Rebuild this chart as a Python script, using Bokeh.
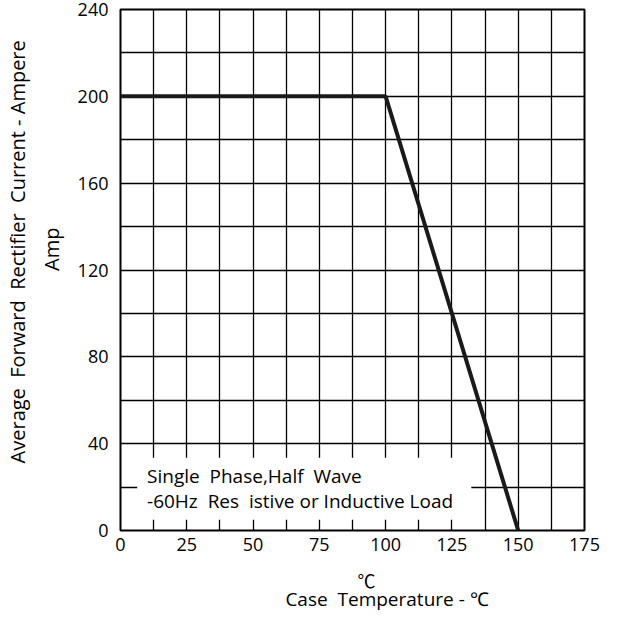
from bokeh.plotting import figure
from bokeh.models import Range1d, FixedTicker, Label, BoxAnnotation, LinearAxis
from bokeh.embed import file_html
from bokeh.resources import INLINE

# ---- data ----
temp_c = [0, 100, 150]
current_a = [200, 200, 0]
x_ticks = [0, 25, 50, 75, 100, 125, 150, 175]
y_ticks = [0, 40, 80, 120, 160, 200, 240]
x_grid = [12.5 * i for i in range(1, 14)]
y_grid = [20 * i for i in range(1, 12)]
note_lines = ["Single\u00a0 Phase,Half\u00a0 Wave", "-60Hz\u00a0 Res\u00a0 istive or Inductive Load"]
y_title = "Average\u00a0 Forward\u00a0 Rectifier\u00a0 Current - Ampere"
y_sub = "Amp"
x_unit = "\u2103"
x_title = "Case\u00a0 Temperature - \u2103"

FONT = "Open Sans"
NB = "\u00a0"

p = figure(width=611, height=615, output_backend="svg", toolbar_location=None,
           x_range=Range1d(0, 175), y_range=Range1d(0, 240),
           min_border_left=115, min_border_right=27, min_border_top=9, min_border_bottom=85)

p.background_fill_color = "white"
p.border_fill_color = "white"
p.outline_line_color = "black"
p.outline_line_width = 2
p.outline_line_alpha = 1

# grid
p.xgrid.ticker = FixedTicker(ticks=x_grid)
p.ygrid.ticker = FixedTicker(ticks=y_grid)
for g in (p.xgrid, p.ygrid):
    g.grid_line_color = "black"
    g.grid_line_width = 1.3
    g.grid_line_alpha = 1

# main axes
p.xaxis.ticker = FixedTicker(ticks=x_ticks)
p.yaxis.ticker = FixedTicker(ticks=y_ticks)
for ax in (p.xaxis, p.yaxis):
    ax.axis_line_color = None
    ax.major_tick_in = 0
    ax.major_tick_out = 0
    ax.minor_tick_line_color = None
    ax.major_label_text_font = FONT
    ax.major_label_text_font_size = "18px"
    ax.major_label_text_color = "black"
    ax.axis_label_text_font_style = "normal"
    ax.axis_label_text_color = "black"
p.xaxis.major_label_standoff = 7
p.yaxis.major_label_standoff = 12

p.xaxis.axis_label = NB * 7 + x_unit
p.xaxis.axis_label_text_font = "Noto Sans CJK SC"
p.xaxis.axis_label_text_font_size = "18px"
p.xaxis.axis_label_standoff = 13

p.yaxis.axis_label = NB * 8 + y_sub
p.yaxis.axis_label_text_font = FONT
p.yaxis.axis_label_text_font_size = "20px"
p.yaxis.axis_label_standoff = 10


def title_axis(label, standoff, size):
    ax = LinearAxis(ticker=FixedTicker(ticks=[]), axis_label=label)
    ax.axis_line_color = None
    ax.major_tick_line_color = None
    ax.minor_tick_line_color = None
    ax.major_label_standoff = 0
    ax.major_label_text_font_size = "0px"
    ax.axis_label_text_font = FONT
    ax.axis_label_text_font_size = size
    ax.axis_label_text_font_style = "normal"
    ax.axis_label_text_color = "black"
    ax.axis_label_standoff = standoff
    return ax


p.add_layout(title_axis(NB * 7 + y_title, 4, "20px"), "left")
p.add_layout(title_axis(NB * 14 + x_title, -10, "19px"), "below")

# white note box covering grid
p.add_layout(BoxAnnotation(left=6.3, right=132.3, bottom=5, top=33.5,
                           fill_color="white", fill_alpha=1, line_color=None))

# curve
p.line(temp_c, current_a, line_color="#1a1a1a", line_width=4)

# note text
p.add_layout(Label(x=10, y=25.2, text=note_lines[0], text_font=FONT, text_font_size="19px",
                   text_baseline="middle", text_align="left", text_color="black"))
p.add_layout(Label(x=10, y=13.8, text=note_lines[1], text_font=FONT, text_font_size="19px",
                   text_baseline="middle", text_align="left", text_color="black"))

open("out.html", "w").write(file_html(p, INLINE))
